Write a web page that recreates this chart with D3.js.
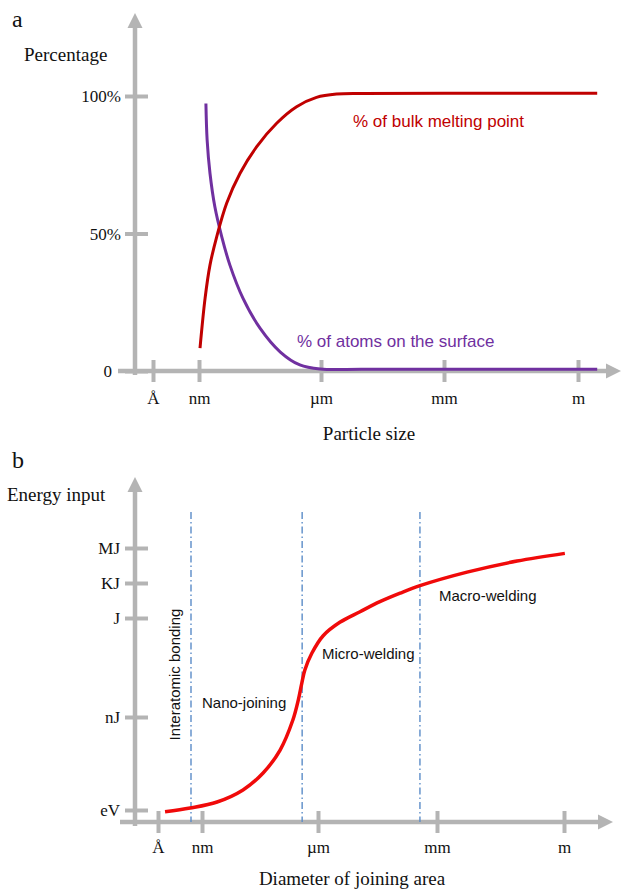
<!DOCTYPE html>
<html><head><meta charset="utf-8">
<script src="https://cdn.jsdelivr.net/npm/d3@7"></script>
<style>body{margin:0;background:#fff}svg{display:block}</style>
</head><body>
<script>
// ---------- DATA ----------
// size axis: log10 of metres
const sizeTickLabels = ["Å", "nm", "µm", "mm", "m"];
const sizeTickValues = [-10, -9, -6, -3, 0];
const pctTickLabels = ["0", "50%", "100%"];
const pctTickValues = [0, 50, 100];
// energy axis: log10 of joules
const energyTickLabels = ["eV", "nJ", "J", "KJ", "MJ"];
const energyTickValues = [-18.8, -9, 0, 3, 6];

// panel a: % of bulk melting point
const meltSize = [-8.975, -8.85, -8.73, -8.565, -8.32, -7.99, -7.58, -7.09, -6.60, -6.11, -5.62, -5.0, -3.0, 0.43];
const meltPct  = [8.3, 26.5, 38.5, 48.8, 61.0, 71.9, 81.6, 90.1, 96.1, 99.5, 100.7, 100.9, 101, 101];
// panel a: % of atoms on the surface
const surfSize = [-8.83, -8.80, -8.73, -8.61, -8.44, -8.24, -7.92, -7.5, -7.0, -6.52, -6.02, -5.0, -3.0, 0.43];
const surfPct  = [97.3, 84, 71.9, 59.7, 48.8, 38.5, 26.5, 15.6, 6.9, 2.2, 0.7, 0.6, 0.6, 0.6];
// panel b: energy input vs diameter of joining area
const joinSize   = [-9.84, -9.27, -8.61, -7.94, -7.42, -6.98, -6.65, -6.51, -6.42, -6.34, -6.16, -5.87, -5.45, -4.94, -4.44, -3.93, -3.43, -2.29, -1.11, 0.02];
const joinEnergy = [-18.98, -18.59, -17.96, -16.69, -14.90, -12.48, -9.32, -7.46, -5.94, -4.73, -3.21, -1.61, -0.39, 0.54, 1.40, 2.13, 2.77, 3.93, 4.88, 5.54];
// region boundaries (log10 m)
const regionBounds = [-9.25, -6.41, -3.43];
const regionLabels = ["Interatomic bonding", "Nano-joining", "Micro-welding", "Macro-welding"];

// ---------- LAYOUT ----------
const W = 627, H = 890;
const GRAY = "#b4b4b4";
const SERIF = "'Liberation Serif','Times New Roman',serif";
const SANS = "'Liberation Sans',Arial,Helvetica,sans-serif";

const svg = d3.select("body").append("svg").attr("width", W).attr("height", H)
  .style("background", "#fff");

function arrowUp(x, tipY) {
  svg.append("path").attr("d", `M${x},${tipY} L${x - 7.5},${tipY + 15} L${x + 7.5},${tipY + 15} Z`).attr("fill", GRAY);
}
function arrowRight(tipX, y) {
  svg.append("path").attr("d", `M${tipX},${y} L${tipX - 15},${y - 7.5} L${tipX - 15},${y + 7.5} Z`).attr("fill", GRAY);
}

function drawAxes(xScale, yScale, opt) {
  const axX = opt.axisX, axY = opt.axisY;
  svg.append("line").attr("x1", axX).attr("x2", axX).attr("y1", axY + 4).attr("y2", opt.yTip + 14)
    .attr("stroke", GRAY).attr("stroke-width", 4.5);
  arrowUp(axX, opt.yTip);
  svg.append("line").attr("x1", opt.xStart).attr("x2", opt.xTip - 14).attr("y1", axY).attr("y2", axY)
    .attr("stroke", GRAY).attr("stroke-width", 4.5);
  arrowRight(opt.xTip, axY);

  const gx = svg.append("g").attr("transform", `translate(0,${axY})`)
    .call(d3.axisBottom(xScale).tickValues(sizeTickValues)
      .tickFormat((d, i) => sizeTickLabels[i]).tickSizeOuter(0));
  gx.select(".domain").remove();
  gx.selectAll(".tick line").attr("y1", -11).attr("y2", 11)
    .attr("stroke", GRAY).attr("stroke-width", 4);
  gx.selectAll(".tick text").attr("y", opt.xLabelDy).attr("dy", 0)
    .attr("font-family", SERIF).attr("font-size", 17).attr("fill", "#111");

  const gy = svg.append("g").attr("transform", `translate(${axX},0)`)
    .call(d3.axisLeft(yScale).tickValues(opt.yVals)
      .tickFormat((d, i) => opt.yLabels[i]).tickSizeOuter(0));
  gy.select(".domain").remove();
  gy.selectAll(".tick line").attr("x1", -10).attr("x2", 13)
    .attr("stroke", GRAY).attr("stroke-width", 4);
  gy.selectAll(".tick text").attr("x", d => opt.yLabelDx(d)).attr("dy", "0.33em")
    .attr("font-family", SERIF).attr("font-size", 17).attr("fill", "#111")
    .attr("text-anchor", "end");
}

function txt(x, y, s, o) {
  const t = svg.append("text").attr("x", x).attr("y", y).text(s)
    .attr("font-family", o.font || SERIF).attr("font-size", o.size || 19)
    .attr("fill", o.fill || "#111").attr("text-anchor", o.anchor || "start");
  if (o.transform) t.attr("transform", o.transform);
  return t;
}

// ---------- PANEL a ----------
const xA = d3.scaleLinear().domain(sizeTickValues).range([153, 199, 321, 444, 578]);
const yA = d3.scaleLinear().domain([0, 100]).range([371, 96]);

drawAxes(xA, yA, {
  axisX: 135, axisY: yA(0), yTip: 13, xStart: 118, xTip: 621,
  xLabelDy: 33, yVals: pctTickValues, yLabels: pctTickLabels,
  yLabelDx: d => d === 0 ? -23 : -14
});

const lineA = d3.line().x(d => xA(d[0])).y(d => yA(d[1])).curve(d3.curveCatmullRom.alpha(0.5));
svg.append("path").datum(d3.zip(surfSize, surfPct)).attr("d", lineA)
  .attr("fill", "none").attr("stroke", "#7030a0").attr("stroke-width", 3);
svg.append("path").datum(d3.zip(meltSize, meltPct)).attr("d", lineA)
  .attr("fill", "none").attr("stroke", "#c00000").attr("stroke-width", 3);

txt(12, 27, "a", { size: 24 });
txt(24, 61, "Percentage", {});
txt(369, 440, "Particle size", { anchor: "middle" });
txt(353, 127, "% of bulk melting point", { font: SANS, size: 17, fill: "#c00000" });
txt(297, 347, "% of atoms on the surface", { font: SANS, size: 17, fill: "#7030a0" });

// ---------- PANEL b ----------
const xB = d3.scaleLinear().domain(sizeTickValues).range([158, 202, 318, 437, 564]);
const yB = d3.scaleLinear().domain(energyTickValues).range([810, 717, 618, 583, 548]);

drawAxes(xB, yB, {
  axisX: 135, axisY: 822, yTip: 477, xStart: 120, xTip: 613,
  xLabelDy: 31, yVals: energyTickValues, yLabels: energyTickLabels,
  yLabelDx: () => -15
});

svg.append("g").selectAll("line").data(regionBounds).join("line")
  .attr("x1", d => xB(d)).attr("x2", d => xB(d)).attr("y1", 512).attr("y2", 822)
  .attr("stroke", "#5b8cc8").attr("stroke-width", 1.4).attr("stroke-dasharray", "7,3,1.5,3");

const lineB = d3.line().x(d => xB(d[0])).y(d => yB(d[1])).curve(d3.curveCatmullRom.alpha(0.5));
svg.append("path").datum(d3.zip(joinSize, joinEnergy)).attr("d", lineB)
  .attr("fill", "none").attr("stroke", "#f00a0a").attr("stroke-width", 3.5);

txt(12, 468, "b", { size: 24 });
txt(7, 501, "Energy input", {});
txt(352, 885, "Diameter of joining area", { anchor: "middle" });
txt(0, 0, regionLabels[0], { font: SANS, size: 15, anchor: "middle", transform: "translate(180,674.5) rotate(-90)" });
txt(202, 708, regionLabels[1], { font: SANS, size: 15 });
txt(322, 659, regionLabels[2], { font: SANS, size: 15 });
txt(439, 601, regionLabels[3], { font: SANS, size: 15 });
</script>
</body></html>
